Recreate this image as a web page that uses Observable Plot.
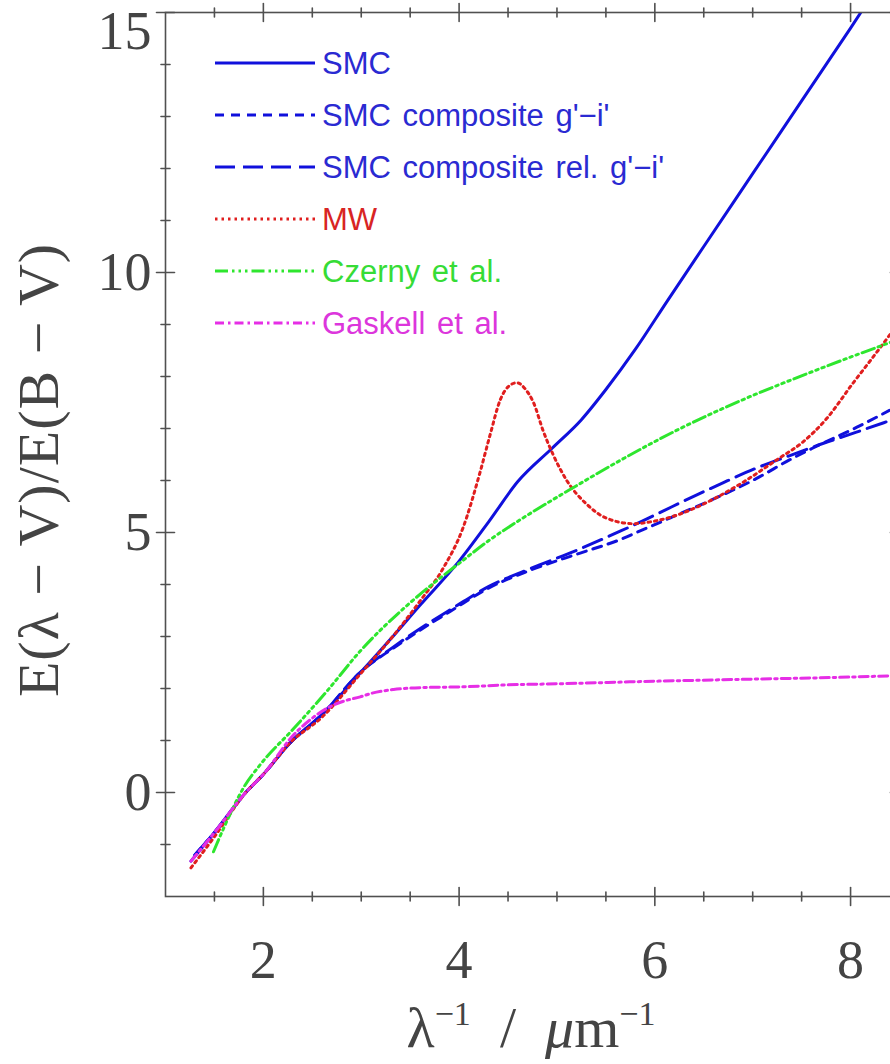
<!DOCTYPE html>
<html>
<head>
<meta charset="utf-8">
<script src="https://cdn.jsdelivr.net/npm/d3@7"></script>
<script src="https://cdn.jsdelivr.net/npm/@observablehq/plot@0.6"></script>
<style>
  html, body { margin: 0; padding: 0; background: #fff; overflow: hidden; }
  #wrap { width: 890px; height: 1064px; overflow: hidden; }
  #wrap svg { max-width: none !important; }
</style>
</head>
<body>
<div id="wrap"></div>
<script>
// ---- data ----
const smcX = [1.26, 1.5, 1.82, 2.0, 2.27, 2.6, 3.0, 3.3, 3.6, 4.0, 4.3, 4.6, 4.95, 5.25, 5.5, 5.8, 6.13, 6.5, 7.0, 7.5, 8.0, 8.4];
const smcY = [-1.32, -0.77, 0.0, 0.35, 0.95, 1.5, 2.32, 2.95, 3.6, 4.45, 5.2, 5.98, 6.62, 7.17, 7.75, 8.52, 9.46, 10.5, 11.9, 13.3, 14.7, 15.85];

const compX = [1.3, 1.5, 1.82, 2.0, 2.27, 2.6, 3.0, 3.33, 3.6, 3.94, 4.3, 4.72, 5.23, 5.64, 5.85, 6.18, 6.69, 7.04, 7.38, 7.61, 8.06, 8.4];
const compGiY = [-1.2, -0.77, 0.0, 0.35, 0.95, 1.5, 2.33, 2.78, 3.12, 3.52, 3.93, 4.27, 4.6, 4.86, 5.03, 5.3, 5.72, 6.04, 6.4, 6.62, 7.02, 7.35];
const compRelY = [-1.2, -0.77, 0.0, 0.35, 0.95, 1.5, 2.33, 2.8, 3.15, 3.55, 3.96, 4.3, 4.68, 5.02, 5.2, 5.5, 5.95, 6.24, 6.48, 6.64, 6.93, 7.15];

const mwX = [1.26, 1.5, 1.82, 2.0, 2.27, 2.6, 3.0, 3.3, 3.6, 3.84, 4.04, 4.21, 4.32, 4.42, 4.5, 4.59, 4.68, 4.76, 4.86, 4.96, 5.1, 5.3, 5.5, 5.78, 6.0, 6.25, 6.5, 6.87, 7.28, 7.5, 7.76, 8.02, 8.2, 8.5];
const mwY = [-1.45, -0.85, 0.0, 0.35, 0.95, 1.45, 2.3, 2.95, 3.68, 4.32, 5.09, 6.13, 6.9, 7.55, 7.8, 7.88, 7.75, 7.5, 6.95, 6.5, 6.0, 5.55, 5.28, 5.17, 5.22, 5.35, 5.55, 5.93, 6.44, 6.72, 7.2, 7.86, 8.3, 9.05];

const czX = [1.49, 1.61, 1.8, 1.97, 2.31, 2.65, 2.99, 3.47, 3.75, 4.01, 4.3, 4.62, 5.2, 5.64, 6.26, 6.87, 7.55, 8.5];
const czY = [-1.14, -0.62, 0.1, 0.54, 1.23, 1.95, 2.72, 3.6, 4.04, 4.42, 4.84, 5.24, 5.9, 6.38, 7.0, 7.53, 8.05, 8.72];

const gaX = [1.26, 1.5, 1.82, 2.0, 2.31, 2.5, 2.65, 2.81, 2.99, 3.11, 3.33, 3.67, 4.01, 4.5, 5.0, 6.0, 7.0, 8.0, 8.5];
const gaY = [-1.32, -0.77, 0.0, 0.35, 1.11, 1.43, 1.62, 1.75, 1.84, 1.91, 1.98, 2.02, 2.03, 2.07, 2.09, 2.14, 2.18, 2.22, 2.25];

const xMajor = [2, 4, 6, 8];
const xMinor = [1.5, 2.5, 3, 3.5, 4.5, 5, 5.5, 6.5, 7, 7.5, 8.5];
const yMajor = [0, 5, 10, 15];
const yMinor = [-1, 1, 2, 3, 4, 6, 7, 8, 9, 11, 12, 13, 14];
const yLabelTicks = [0, 5, 10];
const yTopLabel = [15];

const seriesNames = ["SMC", "SMC composite g'−i'", "SMC composite rel. g'−i'", "MW", "Czerny et al.", "Gaskell et al."];
const seriesColors = ["#1010dc", "#1010dc", "#1010dc", "#e01e1e", "#2ee62e", "#e62ee6"];
const labelColors  = ["#2a2ad2", "#2a2ad2", "#2a2ad2", "#d82424", "#36dc36", "#dc36dc"];
const seriesDash = [null, "9,7", "20,8", "2.5,4", "13,4,2.5,4,2.5,4,2.5,4", "9,4,2.5,4"];

// ---- build table ----
const table = (xs, ys, s) => xs.map((x, i) => ({x, y: ys[i], s}));
const seriesData = [
  table(smcX, smcY, 0),
  table(compX, compGiY, 1),
  table(compX, compRelY, 2),
  table(mwX, mwY, 3),
  table(czX, czY, 4),
  table(gaX, gaY, 5)
];

const axisColor = "#505050";
const tickShape = { draw(ctx, l) { ctx.moveTo(0, 0); ctx.lineTo(0, -l); } };
const serif = "'Liberation Serif', 'DejaVu Serif', serif";

const lineMarks = seriesData.map((d, i) => Plot.line(d, {
  x: "x", y: "y", stroke: seriesColors[i], strokeWidth: 3,
  strokeDasharray: seriesDash[i], curve: "monotone-x", clip: true
}));

const tickMarks = (data, len, anchor, rot) => Plot.vector(data, {
  ...(anchor === "top" || anchor === "bottom" ? {x: d => d} : {y: d => d}),
  frameAnchor: anchor, length: len, rotate: rot, shape: tickShape,
  stroke: axisColor, strokeWidth: 1.6
});

const plot = Plot.plot({
  width: 900, height: 1064,
  marginLeft: 165, marginRight: 1, marginTop: 12, marginBottom: 168,
  x: {domain: [1.0, 8.5], axis: null},
  y: {domain: [-2, 15], axis: null},
  style: {background: "#fff", overflow: "visible", maxWidth: "none"},
  marks: [
    ...lineMarks,
    Plot.frame({stroke: axisColor, strokeWidth: 1.6}),
    tickMarks(xMajor, 18, "bottom", 0),
    tickMarks(xMinor, 9, "bottom", 0),
    tickMarks(xMajor, 18, "top", 180),
    tickMarks(xMinor, 9, "top", 180),
    tickMarks(yMajor, 18, "left", 90),
    tickMarks(yMinor, 9, "left", 90),
    tickMarks(yMajor, 18, "right", -90),
    tickMarks(yMinor, 9, "right", -90),
    Plot.text(xMajor, {x: d => d, frameAnchor: "bottom", dy: 64, text: d => String(d),
      fontSize: 54, fontFamily: serif, fill: "#444", lineAnchor: "middle"}),
    Plot.text(yLabelTicks, {y: d => d, frameAnchor: "left", dx: -14, text: d => String(d),
      textAnchor: "end", fontSize: 54, fontFamily: serif, fill: "#444", lineAnchor: "middle"}),
    Plot.text(yTopLabel, {y: d => d, frameAnchor: "left", dx: -14, dy: 19, text: d => String(d),
      textAnchor: "end", fontSize: 54, fontFamily: serif, fill: "#444", lineAnchor: "middle"})
  ]
});
plot.style.maxWidth = "none";
document.getElementById("wrap").appendChild(plot);

// ---- axis titles ----
const svg = d3.select(plot);
const yl = svg.append("text")
  .attr("transform", "translate(58,470) rotate(-90)")
  .attr("text-anchor", "middle")
  .attr("font-family", serif).attr("font-size", 58).attr("fill", "#444")
  .attr("letter-spacing", 1);
yl.append("tspan").text("E(λ − V)/E(B − V)");

const xl = svg.append("text")
  .attr("x", 531).attr("y", 1047)
  .attr("text-anchor", "middle")
  .attr("font-family", serif).attr("font-size", 58).attr("fill", "#444");
xl.append("tspan").text("λ");
xl.append("tspan").attr("font-size", 34).attr("dy", -22).text("−1");
xl.append("tspan").attr("dy", 22).text("  /  ");
xl.append("tspan").attr("font-style", "italic").text("μ");
xl.append("tspan").text("m");
xl.append("tspan").attr("font-size", 34).attr("dy", -22).text("−1");

// ---- legend ----
const legendRows = [63, 115, 167, 219, 271, 323];
const lg = svg.append("g").attr("text-anchor", "start");
seriesNames.forEach((name, i) => {
  lg.append("line")
    .attr("x1", 215).attr("x2", 315).attr("y1", legendRows[i]).attr("y2", legendRows[i])
    .attr("stroke", seriesColors[i]).attr("stroke-width", 3)
    .attr("stroke-dasharray", seriesDash[i]);
  lg.append("text")
    .attr("x", 322).attr("y", legendRows[i]).attr("dy", "0.36em")
    .attr("text-anchor", "start")
    .attr("font-family", "'Liberation Sans', Arial, sans-serif").attr("font-size", 31)
    .attr("word-spacing", 3)
    .attr("fill", labelColors[i]).text(name);
});
</script>
</body>
</html>
